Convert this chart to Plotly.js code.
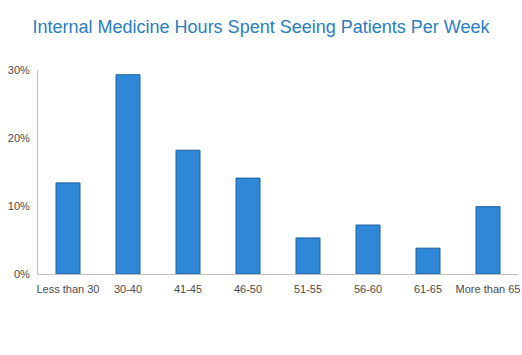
<!DOCTYPE html>
<html><head><meta charset="utf-8">
<script src="https://cdn.plot.ly/plotly-3.0.1.min.js"></script>
<style>html,body{margin:0;padding:0;background:#fff;}#chart{width:522px;height:355px;}</style>
</head><body><div id="chart"></div>
<script>
const categories = ["Less than 30", "30-40", "41-45", "46-50", "51-55", "56-60", "61-65", "More than 65"];
const shares = [0.134, 0.293, 0.182, 0.141, 0.053, 0.072, 0.038, 0.099];
const yTicks = [0, 0.1, 0.2, 0.3];
const yTickLabels = ["0%", "10%", "20%", "30%"];

Plotly.newPlot("chart", [{
  type: "bar",
  x: categories,
  y: shares,
  marker: {color: "#2f87d8", line: {color: "#1d5f9e", width: 1}},
  hoverinfo: "none"
}], {
  width: 522, height: 355,
  margin: {l: 38, r: 4, t: 70, b: 81},
  paper_bgcolor: "#fff", plot_bgcolor: "#fff",
  bargap: 0.6,
  showlegend: false,
  title: {text: "Internal Medicine Hours Spent Seeing Patients Per Week",
    font: {family: "Liberation Sans, Arial, sans-serif", size: 18, color: "#2a7dc0"},
    x: 0.5, xanchor: "center", y: 0.925, yanchor: "middle"},
  xaxis: {showline: true, linecolor: "#bdbdbd", linewidth: 1, showgrid: false, ticks: "", ticklabelstandoff: 5,
    tickfont: {family: "Liberation Sans, Arial, sans-serif", size: 11, color: "#4a4a4a"}, automargin: false},
  yaxis: {range: [0, 0.3], tickvals: yTicks, ticktext: yTickLabels, showline: true, linecolor: "#bdbdbd",
    linewidth: 1, showgrid: false, zeroline: false, ticks: "", ticklabelstandoff: 5,
    tickfont: {family: "Liberation Sans, Arial, sans-serif", size: 11, color: "#4a4a4a"}, automargin: false}
}, {displayModeBar: false, staticPlot: true});
</script></body></html>
